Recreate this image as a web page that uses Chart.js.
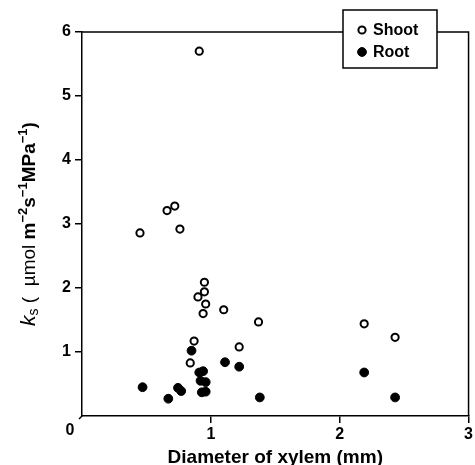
<!DOCTYPE html>
<html>
<head>
<meta charset="utf-8">
<script src="https://cdn.jsdelivr.net/npm/chart.js@4/dist/chart.umd.min.js"></script>
<style>
html,body{margin:0;padding:0;background:#fff;}
#wrap{width:475px;height:465px;position:relative;}
</style>
</head>
<body>
<div id="wrap"><canvas id="c" width="475" height="465"></canvas></div>
<script>
const seriesNames = ['Shoot', 'Root'];
const shootX = [0.91, 0.45, 0.66, 0.72, 0.76, 0.95, 0.95, 0.90, 0.96, 0.94, 1.10, 1.37, 1.22, 0.87, 0.84, 2.19, 2.43];
const shootY = [5.70, 2.86, 3.21, 3.28, 2.92, 2.09, 1.94, 1.86, 1.75, 1.60, 1.66, 1.47, 1.08, 1.17, 0.83, 1.44, 1.23];
const rootX = [0.47, 0.67, 0.745, 0.77, 0.85, 0.91, 0.94, 0.92, 0.96, 0.93, 0.96, 1.11, 1.22, 1.38, 2.19, 2.43];
const rootY = [0.45, 0.27, 0.44, 0.39, 1.02, 0.68, 0.70, 0.55, 0.53, 0.37, 0.38, 0.84, 0.77, 0.29, 0.68, 0.29];
const xTicks = [0, 1, 2, 3];
const yTicks = [0, 1, 2, 3, 4, 5, 6];
const xTitle = 'Diameter of xylem (mm)';

const toPts = (xs, ys) => xs.map((x, i) => ({x: x, y: ys[i]}));
const FONT = '"Liberation Sans", Arial, Helvetica, sans-serif';

const framePlugin = {
  id: 'frame',
  beforeDatasetsDraw(chart) {
    const {ctx, chartArea: a} = chart;
    ctx.save();
    ctx.strokeStyle = '#000';
    ctx.lineWidth = 1.5;
    ctx.beginPath();
    ctx.moveTo(a.left, a.top);
    ctx.lineTo(a.right, a.top);
    ctx.lineTo(a.right, a.bottom);
    ctx.stroke();
    ctx.beginPath();
    ctx.moveTo(a.left, a.bottom);
    ctx.lineTo(a.left - 3, a.bottom + 3);
    ctx.stroke();
    ctx.restore();
  },
  afterDraw(chart) {
    const {ctx, chartArea: a} = chart;
    ctx.save();
    ctx.fillStyle = '#000';
    ctx.font = 'bold 16px ' + FONT;
    ctx.textAlign = 'center';
    ctx.textBaseline = 'middle';
    ctx.fillText(String(xTicks[0]), a.left - 12, a.bottom + 15);
    ctx.font = 'bold 19px ' + FONT;
    ctx.textBaseline = 'alphabetic';
    ctx.fillText(xTitle, (a.left + a.right) / 2, 463);

    const parts = [
      {t: 'k', f: 'italic 21px ' + FONT, dy: 0},
      {t: 's', f: '14px ' + FONT, dy: 3},
      {t: ' (  µmol ', f: '19px ' + FONT, dy: 0},
      {t: 'm', f: 'bold 19px ' + FONT, dy: 0},
      {t: '−2', f: 'bold 13px ' + FONT, dy: -8},
      {t: 's', f: 'bold 19px ' + FONT, dy: 0},
      {t: '−1', f: 'bold 13px ' + FONT, dy: -8},
      {t: 'MPa', f: 'bold 19px ' + FONT, dy: 0},
      {t: '−1', f: 'bold 13px ' + FONT, dy: -8},
      {t: ')', f: 'bold 19px ' + FONT, dy: 0}
    ];
    let total = 0;
    parts.forEach(p => { ctx.font = p.f; p.w = ctx.measureText(p.t).width; total += p.w; });
    ctx.translate(35, (a.top + a.bottom) / 2);
    ctx.rotate(-Math.PI / 2);
    ctx.textAlign = 'left';
    let x = -total / 2;
    parts.forEach(p => { ctx.font = p.f; ctx.fillText(p.t, x, p.dy); x += p.w; });
    ctx.restore();

    ctx.save();
    const bx = 343, by = 10, bw = 94, bh = 58;
    ctx.fillStyle = '#fff';
    ctx.fillRect(bx, by, bw, bh);
    ctx.strokeStyle = '#000';
    ctx.lineWidth = 1.5;
    ctx.strokeRect(bx, by, bw, bh);
    ctx.font = 'bold 16px ' + FONT;
    ctx.textBaseline = 'middle';
    ctx.textAlign = 'left';
    chart.data.datasets.forEach((ds, i) => {
      const cy = 30 + i * 22;
      ctx.beginPath();
      ctx.arc(362, cy, ds.pointRadius, 0, Math.PI * 2);
      ctx.fillStyle = ds.pointBackgroundColor;
      ctx.fill();
      ctx.lineWidth = ds.pointBorderWidth;
      ctx.strokeStyle = ds.pointBorderColor;
      ctx.stroke();
      ctx.fillStyle = '#000';
      ctx.fillText(ds.label, 373, cy + 1);
    });
    ctx.restore();
  }
};

const tickFont = {family: FONT, size: 16, weight: 'bold'};

new Chart(document.getElementById('c'), {
  type: 'scatter',
  data: {
    datasets: [
      {label: seriesNames[0], data: toPts(shootX, shootY),
       pointRadius: 3.6, pointBorderWidth: 2, pointBackgroundColor: '#fff', pointBorderColor: '#000',
       pointHoverRadius: 3.6},
      {label: seriesNames[1], data: toPts(rootX, rootY),
       pointRadius: 4.4, pointBorderWidth: 1, pointBackgroundColor: '#000', pointBorderColor: '#000',
       pointHoverRadius: 4.4}
    ]
  },
  options: {
    responsive: false,
    animation: false,
    events: [],
    layout: {padding: {left: 0, right: 5, top: 32, bottom: 0}},
    plugins: {legend: {display: false}, tooltip: {enabled: false}},
    scales: {
      x: {
        type: 'linear', min: xTicks[0], max: xTicks[xTicks.length - 1],
        afterBuildTicks: s => { s.ticks = xTicks.map(v => ({value: v})); },
        afterFit: s => { s.height = 49; },
        border: {display: true, color: '#000', width: 1.5},
        grid: {drawOnChartArea: false, drawTicks: true, tickLength: 7, lineWidth: 1.5,
               color: c => (c.tick && c.tick.value === 0) ? 'rgba(0,0,0,0)' : '#000'},
        ticks: {color: '#000', font: tickFont, padding: 2,
                callback: v => v === 0 ? '' : String(v)}
      },
      y: {
        type: 'linear', min: yTicks[0], max: yTicks[yTicks.length - 1],
        afterBuildTicks: s => { s.ticks = yTicks.map(v => ({value: v})); },
        afterFit: s => { s.width = 82; },
        border: {display: true, color: '#000', width: 1.5},
        grid: {drawOnChartArea: false, drawTicks: true, tickLength: 7, lineWidth: 1.5,
               color: c => (c.tick && c.tick.value === 0) ? 'rgba(0,0,0,0)' : '#000'},
        ticks: {color: '#000', font: tickFont, padding: 4,
                callback: v => v === 0 ? '' : String(v)}
      }
    }
  },
  plugins: [framePlugin]
});
</script>
</body>
</html>
